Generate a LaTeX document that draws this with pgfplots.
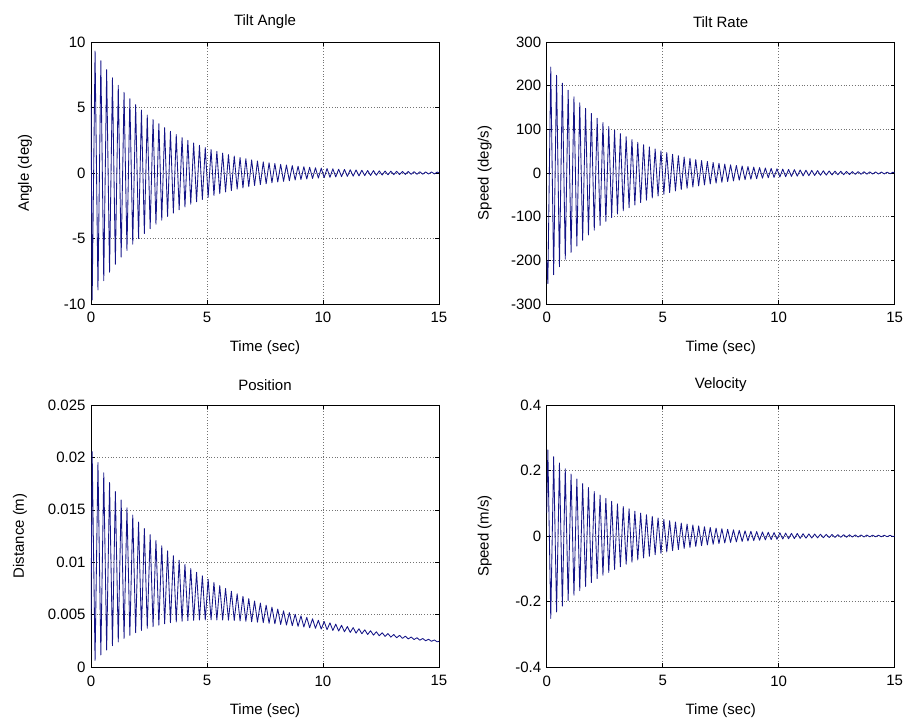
\documentclass[border=0pt]{standalone}
\usepackage{pgfplots}
\pgfplotsset{compat=1.18}
\usepackage{pgfplotstable}
\usepackage{fontspec}
\setmainfont{Liberation Sans}

\pgfplotstableread{
t A R P V
0 6.0 -200 0.0045 0.07
0.05 -9.70 -253.0 0.02055 0.263
0.175 9.31 242.8 0.00063 -0.252
0.3 -8.93 -233.0 0.01950 0.242
0.425 8.57 223.6 0.00115 -0.232
0.55 -8.22 -214.5 0.01852 0.223
0.675 7.89 205.8 0.00162 -0.214
0.8 -7.57 -197.5 0.01760 0.205
0.925 7.27 189.5 0.00203 -0.197
1.05 -6.97 -181.9 0.01674 0.189
1.175 6.69 174.5 0.00240 -0.181
1.3 -6.42 -167.5 0.01594 0.174
1.425 6.16 160.7 0.00273 -0.167
1.55 -5.91 -154.2 0.01519 0.160
1.675 5.67 148.0 0.00302 -0.154
1.8 -5.44 -142.0 0.01449 0.148
1.925 5.22 136.3 0.00327 -0.142
2.05 -5.01 -130.8 0.01383 0.136
2.175 4.81 125.5 0.00349 -0.130
2.3 -4.62 -120.4 0.01321 0.125
2.425 4.43 115.5 0.00369 -0.120
2.55 -4.25 -110.9 0.01263 0.115
2.675 4.08 106.4 0.00385 -0.111
2.8 -3.91 -102.1 0.01208 0.106
2.925 3.76 98.0 0.00399 -0.102
3.05 -3.60 -94.0 0.01156 0.098
3.175 3.46 90.2 0.00412 -0.094
3.3 -3.32 -86.6 0.01108 0.090
3.425 3.18 83.1 0.00422 -0.086
3.55 -3.06 -79.7 0.01062 0.083
3.675 2.93 76.5 0.00430 -0.080
3.8 -2.81 -73.4 0.01019 0.076
3.925 2.70 70.4 0.00436 -0.073
4.05 -2.59 -67.6 0.00979 0.070
4.175 2.49 64.8 0.00442 -0.067
4.3 -2.39 -62.2 0.00940 0.065
4.425 2.29 59.7 0.00445 -0.062
4.55 -2.20 -57.3 0.00904 0.060
4.675 2.11 55.0 0.00448 -0.057
4.8 -2.02 -52.8 0.00870 0.055
4.925 1.94 50.6 0.00449 -0.053
5.05 -1.86 -48.6 0.00837 0.0505
5.175 1.79 46.6 0.00450 -0.0484
5.3 -1.71 -44.7 0.00807 0.0465
5.425 1.65 42.9 0.00449 -0.0446
5.55 -1.58 -41.2 0.00777 0.0428
5.675 1.52 39.5 0.00448 -0.0411
5.8 -1.45 -37.9 0.00750 0.0394
5.925 1.40 36.4 0.00446 -0.0378
6.05 -1.34 -34.9 0.00723 0.0363
6.175 1.29 33.5 0.00443 -0.0348
6.3 -1.23 -32.2 0.00698 0.0335
6.425 1.18 30.9 0.00440 -0.0321
6.55 -1.14 -29.6 0.00675 0.0308
6.675 1.09 28.4 0.00436 -0.0296
6.8 -1.05 -27.3 0.00652 0.0284
6.925 1.00 26.2 0.00432 -0.0272
7.05 -0.96 -25.1 0.00630 0.0261
7.175 0.92 24.1 0.00427 -0.0251
7.3 -0.89 -23.1 0.00610 0.0240
7.425 0.85 22.2 0.00422 -0.0231
7.55 -0.82 -21.3 0.00590 0.0221
7.675 0.78 20.4 0.00417 -0.0213
7.8 -0.75 -19.6 0.00571 0.0204
7.925 0.72 18.8 0.00412 -0.0196
8.05 -0.69 -18.1 0.00553 0.0188
8.175 0.66 17.3 0.00406 -0.0180
8.3 -0.64 -16.6 0.00536 0.0173
8.425 0.61 16.0 0.00400 -0.0166
8.55 -0.59 -15.3 0.00519 0.0159
8.675 0.56 14.7 0.00394 -0.0153
8.8 -0.54 -14.1 0.00504 0.0146
8.925 0.52 13.5 0.00388 -0.0141
9.05 -0.50 -13.0 0.00488 0.0135
9.175 0.48 12.4 0.00382 -0.0129
9.3 -0.46 -11.9 0.00474 0.0124
9.425 0.44 11.5 0.00375 -0.0119
9.55 -0.42 -11.0 0.00460 0.0114
9.675 0.40 10.6 0.00369 -0.0110
9.8 -0.39 -10.1 0.00446 0.0105
9.925 0.37 9.7 0.00362 -0.0101
10.05 -0.36 -9.3 0.00434 0.0097
10.175 0.34 9.0 0.00356 -0.0093
10.3 -0.33 -8.6 0.00421 0.0089
10.425 0.32 8.2 0.00349 -0.0086
10.55 -0.30 -7.9 0.00409 0.0082
10.675 0.29 7.6 0.00343 -0.0079
10.8 -0.28 -7.3 0.00398 0.0076
10.925 0.27 7.0 0.00336 -0.0073
11.05 -0.26 -6.7 0.00386 0.0070
11.175 0.25 6.4 0.00330 -0.0067
11.3 -0.24 -6.2 0.00376 0.0064
11.425 0.23 5.9 0.00323 -0.0062
11.55 -0.22 -5.7 0.00365 0.0059
11.675 0.21 5.5 0.00317 -0.0057
11.8 -0.20 -5.2 0.00355 0.0054
11.925 0.19 5.0 0.00310 -0.0052
12.05 -0.19 -4.8 0.00346 0.0050
12.175 0.18 4.6 0.00304 -0.0048
12.3 -0.17 -4.5 0.00336 0.0046
12.425 0.16 4.3 0.00298 -0.0044
12.55 -0.16 -4.1 0.00327 0.0043
12.675 0.15 3.9 0.00292 -0.0041
12.8 -0.14 -3.8 0.00319 0.0039
12.925 0.14 3.6 0.00285 -0.0038
13.05 -0.13 -3.5 0.00310 0.0036
13.175 0.13 3.3 0.00279 -0.0034
13.3 -0.12 -3.2 0.00302 0.0033
13.425 0.12 3.1 0.00273 -0.0032
13.55 -0.11 -2.9 0.00294 0.0031
13.675 0.11 2.8 0.00268 -0.0029
13.8 -0.10 -2.7 0.00286 0.0028
13.925 0.10 2.6 0.00262 -0.0027
14.05 -0.10 -2.5 0.00279 0.0026
14.175 0.09 2.4 0.00256 -0.0025
14.3 -0.09 -2.3 0.00272 0.0024
14.425 0.08 2.2 0.00250 -0.0023
14.55 -0.08 -2.1 0.00265 0.0022
14.675 0.08 2.0 0.00245 -0.0021
14.8 -0.07 -1.9 0.00258 0.0020
14.925 0.07 1.9 0.00240 -0.0019
15 0 0 0.00245 0
}\datatable

\pgfplotsset{
  mstyle/.style={
    scale only axis, width=348pt, height=262pt, anchor=south west,
    xmin=0, xmax=15, xtick={0,5,10,15}, xticklabels={0,5,10,15},
    scaled y ticks=false,
    grid=major,
    major grid style={black!55, line width=0.5pt, dash pattern=on 0.8pt off 2pt},
    tick align=inside, major tick length=4pt,
    every tick/.style={black, line width=0.5pt},
    axis line style={black, line width=0.6pt},
    tick label style={font=\fontsize{15}{17}\selectfont, black},
    xticklabel style={yshift=-5pt},
    yticklabel style={xshift=-2pt},
    xlabel={Time (sec)},
    every axis x label/.style={at={([yshift=-44pt]axis description cs:0.5,0)}, anchor=center, font=\fontsize{15}{17}\selectfont},
    every axis title/.style={at={([yshift=20pt]axis description cs:0.5,1)}, anchor=center, font=\fontsize{15}{17}\selectfont},
  },
  ylab/.style={every axis y label/.style={at={([xshift=-#1]axis description cs:0,0.5)}, rotate=90, anchor=center, font=\fontsize{15}{17}\selectfont}},
  dline/.style={color={rgb,255:red,20;green,20;blue,135}, line width=0.85pt, mark=none, line join=round},
}

\begin{document}
\begin{tikzpicture}
\useasboundingbox (0,0) rectangle (911pt,722pt);

\begin{axis}[mstyle, at={(91pt,418pt)}, title={Tilt Angle}, ylabel={Angle (deg)}, ylab=66pt,
  ymin=-10, ymax=10, ytick={-10,-5,0,5,10}, yticklabels={-10,-5,0,5,10}]
\addplot[dline] table[x=t, y=A]{\datatable};
\end{axis}

\begin{axis}[mstyle, at={(546.7pt,418pt)}, title={Tilt Rate}, ylabel={Speed (deg/s)}, ylab=62pt,
  ymin=-300, ymax=300, ytick={-300,-200,-100,0,100,200,300}, yticklabels={-300,-200,-100,0,100,200,300}]
\addplot[dline] table[x=t, y=R]{\datatable};
\end{axis}

\begin{axis}[mstyle, at={(91pt,55pt)}, title={Position}, ylabel={Distance (m)}, ylab=71pt,
  ymin=0, ymax=0.025, ytick={0,0.005,0.01,0.015,0.02,0.025}, yticklabels={0,0.005,0.01,0.015,0.02,0.025}]
\addplot[dline] table[x=t, y=P]{\datatable};
\end{axis}

\begin{axis}[mstyle, at={(546.7pt,55pt)}, title={Velocity}, ylabel={Speed (m/s)}, ylab=62pt,
  ymin=-0.4, ymax=0.4, ytick={-0.4,-0.2,0,0.2,0.4}, yticklabels={-0.4,-0.2,0,0.2,0.4}]
\addplot[dline] table[x=t, y=V]{\datatable};
\end{axis}
\end{tikzpicture}
\end{document}
